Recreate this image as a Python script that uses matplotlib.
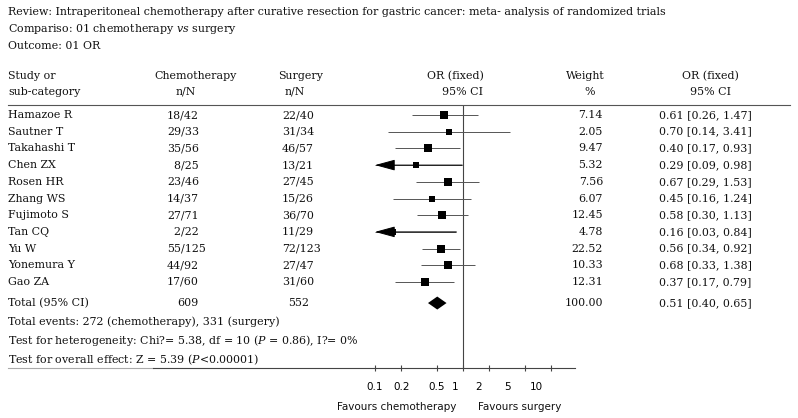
import matplotlib
matplotlib.use("Agg")
import matplotlib.pyplot as plt
import matplotlib.transforms as mtransforms
from matplotlib.lines import Line2D
import numpy as np

# data
studies = ["Hamazoe R", "Sautner T", "Takahashi T", "Chen ZX", "Rosen HR", "Zhang WS",
           "Fujimoto S", "Tan CQ", "Yu W", "Yonemura Y", "Gao ZA"]
chemo = ["18/42", "29/33", "35/56", "  8/25", "23/46", "14/37", "27/71", "  2/22",
         "55/125", "44/92", "17/60"]
surgery = ["22/40", "31/34", "46/57", "13/21", "27/45", "15/26", "36/70", "11/29",
           "72/123", "27/47", "31/60"]
weight = [7.14, 2.05, 9.47, 5.32, 7.56, 6.07, 12.45, 4.78, 22.52, 10.33, 12.31]
odds = [0.61, 0.70, 0.40, 0.29, 0.67, 0.45, 0.58, 0.16, 0.56, 0.68, 0.37]
ci_lo = [0.26, 0.14, 0.17, 0.09, 0.29, 0.16, 0.30, 0.03, 0.34, 0.33, 0.17]
ci_hi = [1.47, 3.41, 0.93, 0.98, 1.53, 1.24, 1.13, 0.84, 0.92, 1.38, 0.79]

total_chemo = "609"
total_surgery = "552"
total_weight = 100.00
total_or, total_lo, total_hi = 0.51, 0.40, 0.65

ticks = [0.1, 0.2, 0.5, 1, 2, 5, 10]
tick_labels = ["0.1", "0.2", "0.5", "1", "2", "5", "10"]

title_lines = ["Review: Intraperitoneal chemotherapy after curative resection for gastric cancer: meta- analysis of randomized trials",
               r"Compariso: 01 chemotherapy $\mathit{vs}$ surgery",
               "Outcome: 01 OR"]
summary_lines = ["Total events: 272 (chemotherapy), 331 (surgery)",
                 r"Test for heterogeneity: Chi?= 5.38, df = 10 ($\mathit{P}$ = 0.86), I?= 0%",
                 r"Test for overall effect: Z = 5.39 ($\mathit{P}$<0.00001)"]

plt.rcParams['mathtext.fontset'] = 'custom'
plt.rcParams['mathtext.rm'] = 'DejaVu Serif'
plt.rcParams['mathtext.it'] = 'DejaVu Serif:italic'

W, H = 798, 418
fig = plt.figure(figsize=(W / 100, H / 100), dpi=100)

# forest axis: log scale, 0.1 at x=375px, 88px per decade
ax_left, ax_right, ax_top, ax_bot = 375, 575, 105, 368
ax = fig.add_axes([ax_left / W, 1 - ax_bot / H, (ax_right - ax_left) / W, (ax_bot - ax_top) / H])
ax.set_xscale('log')
xmin = 0.1
ax.set_xlim(xmin, xmin * 10 ** ((ax_right - ax_left) / 88))
row_h = 16.7
ax.set_ylim((ax_bot - 115) / row_h, (ax_top - 115) / row_h)
y = np.arange(len(studies))
y_total = 11.26

# pixel transform, y measured from the top
px = mtransforms.Affine2D().scale(1 / W, -1 / H).translate(0, 1) + fig.transFigure
row_tr = mtransforms.blended_transform_factory(px, ax.transData)

serif = dict(family='DejaVu Serif', size=7.9, color='#111111')

ax.axvline(1, color='#444444', lw=0.8)

for i in range(len(studies)):
    if ci_lo[i] < xmin:
        # interval runs off the scale: draw an arrow head at the edge
        ax.annotate('', xy=(xmin, y[i]), xytext=(ci_hi[i], y[i]),
                    arrowprops=dict(arrowstyle='-|>,head_length=1.25,head_width=0.34',
                                    color='black', lw=0.7, shrinkA=0, shrinkB=0),
                    annotation_clip=False)
        ax.hlines(y[i], xmin, ci_hi[i], color='#555555', lw=0.7)
    else:
        ax.hlines(y[i], ci_lo[i], ci_hi[i], color='#555555', lw=0.7)
    side = 5 + 0.8 * np.sqrt(weight[i])
    ax.plot(odds[i], y[i], marker='s', ms=side * 0.72, color='black', mew=0)

dh = 6.5 / row_h
ax.fill([total_lo, total_or, total_hi, total_or],
        [y_total, y_total - dh, y_total, y_total + dh], color='black', lw=0)

for s in ['top', 'left', 'right']:
    ax.spines[s].set_visible(False)
ax.spines['bottom'].set_color('#444444')
ax.spines['bottom'].set_linewidth(0.8)
ax.set_yticks([])
ax.set_xticks(ticks)
ax.set_xticklabels(tick_labels)
ax.minorticks_off()
ax.tick_params(axis='x', which='both', direction='inout', length=4, width=0.8,
               colors='#444444', labelcolor='black', labelsize=7.5, pad=8)
# labels in the source sit a little left of their ticks
for lab, dx in zip(ax.get_xticklabels(), [0, 0, 0, -8, -11, -17, -15]):
    lab.set_transform(lab.get_transform() + mtransforms.ScaledTranslation(dx / 100, 0, fig.dpi_scale_trans))
    lab.set_family('DejaVu Sans')

# rules
fig.add_artist(Line2D([8 / W, 790 / W], [1 - ax_top / H] * 2, color='#555555', lw=0.8))
fig.add_artist(Line2D([8 / W, 153 / W], [1 - ax_bot / H] * 2, color='#aaaaaa', lw=0.8))
fig.add_artist(Line2D([153 / W, ax_left / W], [1 - ax_bot / H] * 2, color='#444444', lw=0.8))

# title block
for k, t in enumerate(title_lines):
    fig.text(8, 12 + 17 * k, t, transform=px, va='center', ha='left', **serif)

# column headers
hdr = [((8, 8), "Study or", "sub-category", 'left'),
       ((196, 186), "Chemotherapy", "n/N", 'center'),
       ((301, 295), "Surgery", "n/N", 'center'),
       ((455, 462), "OR (fixed)", "95% CI", 'center'),
       ((585, 590), "Weight", "%", 'center'),
       ((710, 710), "OR (fixed)", "95% CI", 'center')]
for (x1, x2), t1, t2, ha in hdr:
    fig.text(x1, 76, t1, transform=px, va='center', ha=ha, **serif)
    fig.text(x2, 92, t2, transform=px, va='center', ha=ha, **serif)

# study rows
for i in range(len(studies)):
    fig.text(8, y[i], studies[i], transform=row_tr, va='center', ha='left', **serif)
    fig.text(167, y[i], chemo[i], transform=row_tr, va='center', ha='left', **serif)
    fig.text(282, y[i], surgery[i], transform=row_tr, va='center', ha='left', **serif)
    fig.text(603, y[i], f"{weight[i]:.2f}", transform=row_tr, va='center', ha='right', **serif)
    fig.text(659, y[i], f"{odds[i]:.2f} [{ci_lo[i]:.2f}, {ci_hi[i]:.2f}]",
             transform=row_tr, va='center', ha='left', **serif)

# total row
fig.text(8, y_total, "Total (95% CI)", transform=row_tr, va='center', ha='left', **serif)
fig.text(177, y_total, total_chemo, transform=row_tr, va='center', ha='left', **serif)
fig.text(288, y_total, total_surgery, transform=row_tr, va='center', ha='left', **serif)
fig.text(603, y_total, f"{total_weight:.2f}", transform=row_tr, va='center', ha='right', **serif)
fig.text(659, y_total, f"{total_or:.2f} [{total_lo:.2f}, {total_hi:.2f}]",
         transform=row_tr, va='center', ha='left', **serif)

for k, t in enumerate(summary_lines):
    fig.text(8, 322 + 19 * k, t, transform=px, va='center', ha='left', **serif)

sans = dict(family='DejaVu Sans', size=7.5, color='#111111')
fig.text(397, 407, "Favours chemotherapy", transform=px, va='center', ha='center', **sans)
fig.text(520, 407, "Favours surgery", transform=px, va='center', ha='center', **sans)

fig.savefig("out.png", dpi=100, facecolor='white')
